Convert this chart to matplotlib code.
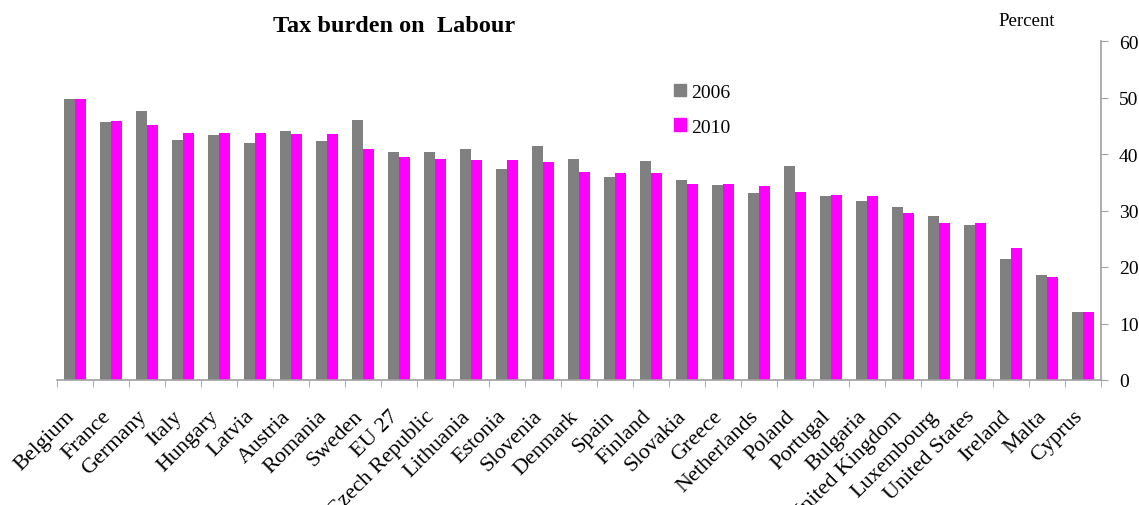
import matplotlib
matplotlib.use("Agg")
import matplotlib.pyplot as plt
import matplotlib.transforms as mtransforms
import numpy as np
from matplotlib.patches import Patch

countries = ["Belgium", "France", "Germany", "Italy", "Hungary", "Latvia", "Austria",
             "Romania", "Sweden", "EU 27", "Czech Republic", "Lithuania", "Estonia",
             "Slovenia", "Denmark", "Spain", "Finland", "Slovakia", "Greece",
             "Netherlands", "Poland", "Portugal", "Bulgaria", "United Kingdom",
             "Luxembourg", "United States", "Ireland", "Malta", "Cyprus"]
y2006 = [49.7, 45.7, 47.6, 42.5, 43.4, 41.9, 44.1, 42.3, 46.0, 40.4, 40.4, 40.9, 37.3,
         41.4, 39.1, 35.9, 38.8, 35.4, 34.5, 33.1, 37.9, 32.5, 31.6, 30.7, 29.1, 27.5,
         21.5, 18.5, 12.0]
y2010 = [49.7, 45.8, 45.1, 43.7, 43.7, 43.7, 43.5, 43.5, 40.9, 39.5, 39.1, 38.9, 38.9,
         38.6, 36.8, 36.6, 36.6, 34.7, 34.7, 34.3, 33.3, 32.8, 32.5, 29.6, 27.7, 27.7,
         23.3, 18.2, 12.0]
series_labels = ["2006", "2010"]
yticks = [0, 10, 20, 30, 40, 50, 60]

plt.rcParams['font.family'] = ['Liberation Serif', 'DejaVu Serif']

fig = plt.figure(figsize=(11.39, 5.06), dpi=100)
ax = fig.add_axes([57/1139, 1 - 381/506, (1101 - 57)/1139, (381 - 42)/506])

x = np.arange(len(countries))
w = 0.31
c1, c2 = '#808080', '#ff00ff'
ax.bar(x - w/2, y2006, width=w, color=c1, label=series_labels[0])
ax.bar(x + w/2, y2010, width=w, color=c2, label=series_labels[1])

ax.set_xlim(-0.5, len(countries) - 0.5)
ax.set_ylim(0, 60)
ax.yaxis.tick_right()
ax.set_yticks(yticks)
ax.set_yticklabels([str(t) for t in yticks], fontsize=14)
ax.tick_params(axis='y', direction='out', length=5, color='#a0a0a0', pad=8)

ax.set_xticks(x)
ax.set_xticklabels(countries, rotation=45, ha='right', va='top',
                   rotation_mode='anchor', fontsize=16)
ax.tick_params(axis='x', which='major', length=0, pad=19)
offset = mtransforms.ScaledTranslation(-10/100, 0, fig.dpi_scale_trans)
for lbl in ax.get_xticklabels():
    lbl.set_transform(lbl.get_transform() + offset)
ax.set_xticks(np.arange(-0.5, len(countries)), minor=True)
ax.tick_params(axis='x', which='minor', direction='out', length=5, color='#a0a0a0')

for s in ['top', 'left']:
    ax.spines[s].set_visible(False)
for s in ['right', 'bottom']:
    ax.spines[s].set_color('#a0a0a0')
    ax.spines[s].set_linewidth(1.2)

handles = [Patch(color=c1), Patch(color=c2)]
ax.legend(handles, series_labels, loc='upper left', bbox_to_anchor=(656/1139, 1 - 67/506),
          bbox_transform=fig.transFigure, frameon=False, fontsize=14,
          handlelength=0.65, handleheight=0.65, handletextpad=0.25, labelspacing=0.9)

fig.text(394/1139, 1 - 26/506, "Tax burden on  Labour", fontsize=17.5, fontweight='bold',
         ha='center', va='center')
fig.text(1027/1139, 1 - 21/506, "Percent", fontsize=13.5, ha='center', va='center')

fig.savefig("out.png", dpi=100)
